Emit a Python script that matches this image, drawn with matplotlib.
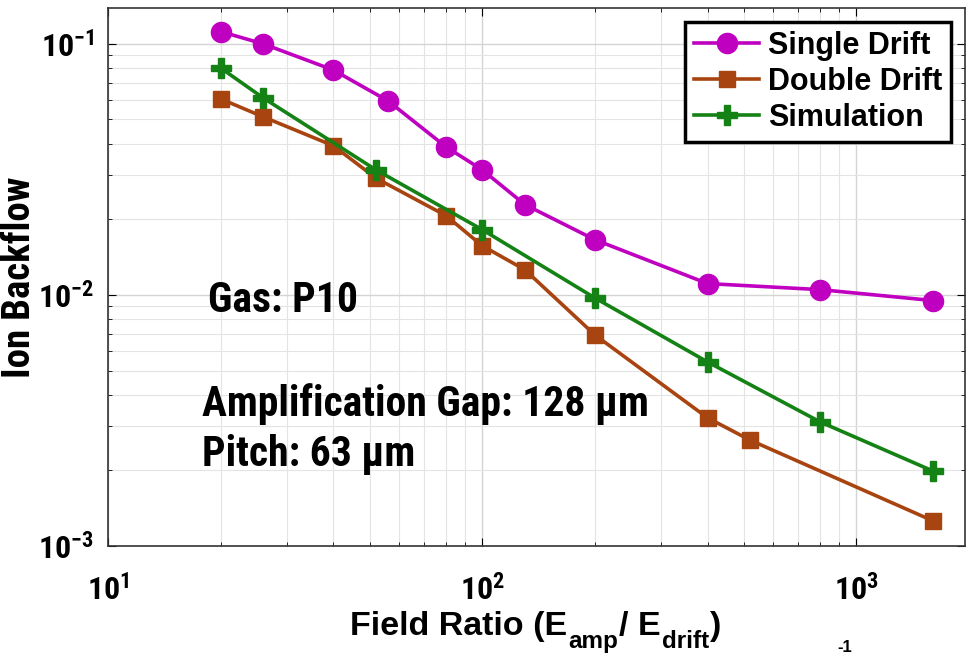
import numpy as np
import matplotlib
matplotlib.use("Agg")
import matplotlib.pyplot as plt
from matplotlib.font_manager import FontProperties

plt.rcParams['font.family'] = ['Roboto Condensed', 'DejaVu Sans']
plt.rcParams['font.weight'] = 'bold'
plt.rcParams['mathtext.fontset'] = 'custom'
plt.rcParams['mathtext.rm'] = 'Roboto Condensed:bold'
plt.rcParams['mathtext.bf'] = 'Roboto Condensed:bold'
plt.rcParams['mathtext.it'] = 'Roboto Condensed:bold'
plt.rcParams['mathtext.default'] = 'bf'

# data
single_x = [20, 26, 40, 56, 80, 100, 130, 200, 400, 800, 1600]
single_y = [0.112, 0.100, 0.0787, 0.0593, 0.0389, 0.0315, 0.0229, 0.0166, 0.0111, 0.0105, 0.0095]

double_x = [20, 26, 40, 52, 80, 100, 130, 200, 400, 520, 1600]
double_y = [0.0604, 0.0512, 0.0393, 0.0292, 0.0207, 0.0157, 0.0126, 0.00693, 0.00324, 0.00264, 0.00126]

sim_x = [20, 26, 52, 100, 200, 400, 800, 1600]
sim_y = [0.0802, 0.0609, 0.0315, 0.0182, 0.00973, 0.00541, 0.00312, 0.00199]

notes = ["Gas: P10", "Amplification Gap: 128 µm", "Pitch: 63 µm"]

W, H = 970, 657
fig = plt.figure(figsize=(W / 100, H / 100), dpi=100)
ax = fig.add_axes([108/W, 1-546/H, (965-108)/W, (546-8)/H])

ax.plot(single_x, single_y, '-o', color='#c000c0', lw=2.6, ms=14.5, label='Single Drift')
ax.plot(double_x, double_y, '-s', color='#a8440f', lw=2.6, ms=11, label='Double Drift')
ax.plot(sim_x, sim_y, '-P', color='#148214', lw=2.6, ms=14, label='Simulation')

ax.set_xscale('log')
ax.set_yscale('log')
ax.set_xlim(10, 1950)
ax.set_ylim(1e-3, 0.139)

ax.grid(True, which='major', color='#d4d4d4', lw=1.0)
ax.grid(True, which='minor', color='#e4e4e4', lw=0.8)
ax.tick_params(which='both', direction='in', top=True, right=True, labelsize=23)
ax.tick_params(axis='x', pad=20)
ax.tick_params(axis='y', pad=10)
ax.tick_params(which='major', length=6)
ax.tick_params(which='minor', length=3)
for s in ax.spines.values():
    s.set_linewidth(1.2)
    s.set_color('#333333')

ax.set_ylabel('Ion Backflow', fontsize=28, fontweight='bold')
ax.yaxis.set_label_coords(-0.082, 0.5)

# x label pieced together so the subscripts sit low like the original
arial = dict(family=['Liberation Sans', 'DejaVu Sans'], weight='bold')
pieces = [("Field Ratio (E", 24.5, 0), ("amp", 17.5, 13), ("/ E", 24.5, 0),
          ("drift", 17.5, 13), (")", 24.5, 0)]
renderer = fig.canvas.get_renderer()
xp = 350
for s, size, dy in pieces:
    t = fig.text(xp / W, 1 - (635 + dy) / H, s, fontsize=size, va='baseline', **arial)
    xp = t.get_window_extent(renderer=renderer).x1 + 1

ax.text(0.1167, 0.435, notes[0], transform=ax.transAxes, fontsize=30, fontweight='bold', va='baseline')
ax.text(0.1097, 0.2416, notes[1], transform=ax.transAxes, fontsize=30, fontweight='bold', va='baseline')
ax.text(0.1097, 0.1487, notes[2], transform=ax.transAxes, fontsize=30, fontweight='bold', va='baseline')
fig.text(837/W, 1-655/H, '-1', fontsize=12, va='bottom', **arial)

leg = ax.legend(loc='upper right', prop=FontProperties(family='Liberation Sans', weight='bold', size=22),
                frameon=True, fancybox=False, borderaxespad=0.45, handlelength=2.1,
                handletextpad=0.3, labelspacing=0.2, borderpad=0.3)
leg.get_frame().set_edgecolor('black')
leg.get_frame().set_linewidth(2.5)
leg.get_frame().set_alpha(1)

fig.savefig('out.png', dpi=100)
